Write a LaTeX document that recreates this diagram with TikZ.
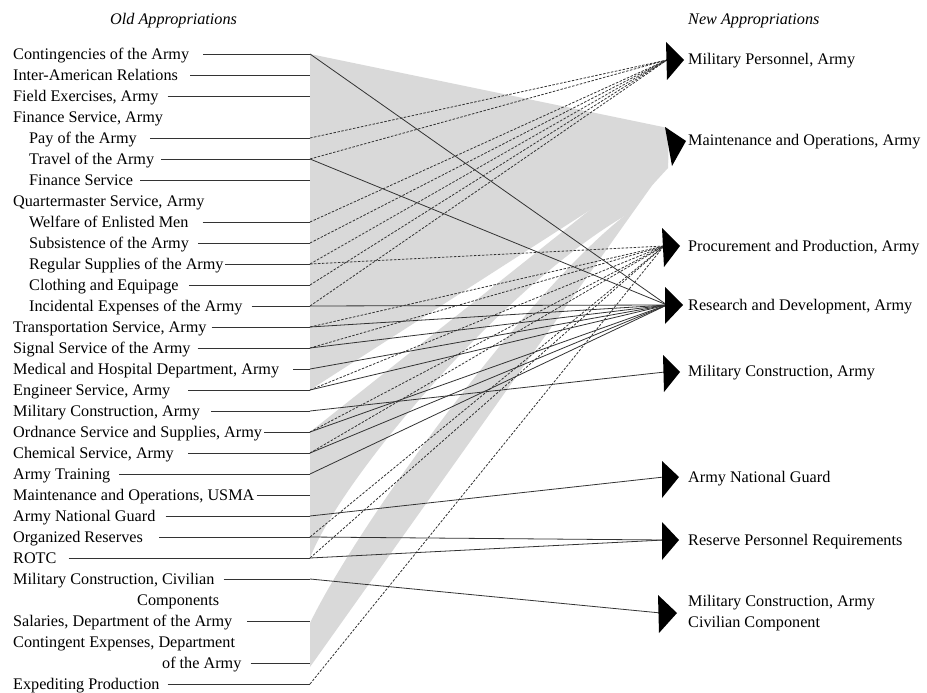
\documentclass[tikz,border=0pt]{standalone}
\usepackage{fontspec}
\setmainfont{Liberation Serif}
\begin{document}
\begin{tikzpicture}[x=1pt,y=-1pt,
  lbl/.style={anchor=base west,inner sep=0pt,font=\fontsize{16.2}{19}\selectfont},
  ttl/.style={anchor=base west,inner sep=0pt,font=\fontsize{16.2}{19}\selectfont\itshape},
  band/.style={fill={rgb,255:red,217;green,217;blue,217}},
  stub/.style={draw=black!80,line width=0.8pt},
  sol/.style={draw=black!80,line width=0.8pt},
  dsh/.style={draw=black!80,line width=0.8pt,dash pattern=on 2.5pt off 1.5pt},
  head/.style={fill=black}]
\useasboundingbox (0,0) rectangle (927,693);
% left rows: index / x / text
\foreach \k/\x/\t in {
 0/13/{Contingencies of the Army},
 1/13/{Inter-American Relations},
 2/13/{Field Exercises, Army},
 3/13/{Finance Service, Army},
 4/29/{Pay of the Army},
 5/29/{Travel of the Army},
 6/29/{Finance Service},
 7/13/{Quartermaster Service, Army},
 8/29/{Welfare of Enlisted Men},
 9/29/{Subsistence of the Army},
 10/29/{Regular Supplies of the Army},
 11/29/{Clothing and Equipage},
 12/29/{Incidental Expenses of the Army},
 13/13/{Transportation Service, Army},
 14/13/{Signal Service of the Army},
 15/13/{Medical and Hospital Department, Army},
 16/13/{Engineer Service, Army},
 17/13/{Military Construction, Army},
 18/13/{Ordnance Service and Supplies, Army},
 19/13/{Chemical Service, Army},
 20/13/{Army Training},
 21/13/{Maintenance and Operations, USMA},
 22/13/{Army National Guard},
 23/13/{Organized Reserves},
 24/13/{ROTC},
 25/13/{Military Construction, Civilian},
 26/137/{Components},
 27/13/{Salaries, Department of the Army},
 28/13/{Contingent Expenses, Department},
 29/162/{of the Army},
 30/13/{Expediting Production}}{
  \coordinate (j\k) at (310,54+21*\k);
  \node[lbl] (l\k) at (\x,59.5+21*\k) {\t};
}
% targets
\coordinate (tMP) at (667,60);
\coordinate (tMO) at (668,146);
\coordinate (tPr) at (664,246);
\coordinate (tRD) at (667,305);
\coordinate (tMC) at (665,372);
\coordinate (tANG) at (664,477);
\coordinate (tRes) at (664,540);
\coordinate (tMCC) at (661,613);
% gray bands towards Maintenance and Operations
\fill[band] (j0) -- (668,128) -- (668,160) -- (j16) -- cycle;
\fill[band] (j18) -- (668,148) -- (668,168) -- (623,217)
  .. controls (500,290) and (340,480) .. (j24) -- cycle;
\fill[band] (310,623) .. controls (360,520) and (530,290) .. (623,217)
  -- (668,150) -- (668,163) -- (310,667) -- cycle;
% stubs
\foreach \k/\g in {0/14,1/12,2/9,4/13,5/7,6/7,8/14,9/9,10/1,11/10,12/9,13/5,14/7,15/14,16/18,17/11,18/2,19/14,20/9,21/2,22/10,23/16,24/12,25/9,27/15,29/9,30/8}{
  \draw[stub] (l\k.east |- j\k) ++(\g pt,0) -- (j\k);
}
% Military Personnel
\foreach \k in {4,5,8,9,10,11,12}{\draw[dsh] (j\k) -- (tMP);}
% Procurement
\foreach \k in {10,13,14,16,18,19,23,24,30}{\draw[dsh] (j\k) -- (tPr);}
% Research and Development
\foreach \k in {0,5,12,13,14,15,16,18,19,20}{\draw[sol] (j\k) -- (tRD);}
\draw[sol] (j17) -- (tMC);
\draw[sol] (j22) -- (tANG);
\draw[sol] (j23) -- (tRes);
\draw[sol] (j24) -- (tRes);
\draw[sol] (j25) -- (tMCC);
% arrowheads
\fill[head] (666,42) -- (684,60) -- (667,80) -- cycle;
\fill[head] (665,127) -- (686,141) -- (672,166) -- cycle;
\fill[head] (662,228) -- (680,246) -- (664,267) -- cycle;
\fill[head] (665,287) -- (683,305) -- (665,324) -- cycle;
\fill[head] (663,355) -- (680,372) -- (664,392) -- cycle;
\fill[head] (662,461) -- (679,477) -- (662,498) -- cycle;
\fill[head] (662,522) -- (679,540) -- (662,560) -- cycle;
\fill[head] (658,595) -- (677,613) -- (659,633) -- cycle;
% right labels
\node[lbl] (r1) at (688,65) {Military Personnel, Army};
\node[lbl] (r2) at (688,146) {Maintenance and Operations, Army};
\node[lbl] (r3) at (688,251) {Procurement and Production, Army};
\node[lbl] (r4) at (688,310) {Research and Development, Army};
\node[lbl] (r5) at (688,376) {Military Construction, Army};
\node[lbl] (r6) at (688,482) {Army National Guard};
\node[lbl] (r7) at (688,545) {Reserve Personnel Requirements};
\node[lbl] (r8) at (688,606) {Military Construction, Army};
\node[lbl] (r8b) at (688,627) {Civilian Component};
% titles
\node[ttl] (t1) at (110,25) {Old Appropriations};
\node[ttl] (t2) at (688,25) {New Appropriations};
\end{tikzpicture}
\end{document}
